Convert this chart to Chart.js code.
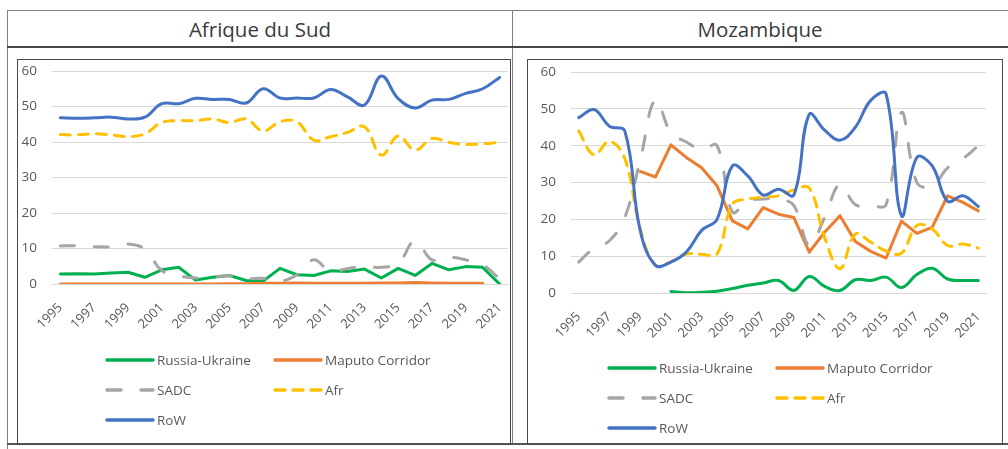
<!DOCTYPE html>
<html>
<head>
<meta charset="utf-8">
<script src="https://cdn.jsdelivr.net/npm/chart.js@4.4.1/dist/chart.umd.min.js"></script>
<style>
  html, body { margin: 0; padding: 0; background: #fff; }
  body { width: 1008px; height: 449px; position: relative; overflow: hidden; font-family: "Open Sans", sans-serif; }
  .ln { position: absolute; background: #7f7f7f; }
  .head { position: absolute; top: 11px; height: 36px; line-height: 36px; text-align: center; font-size: 20.5px; color: #3a3a3a; }
  .box { position: absolute; top: 59px; height: 384px; border: 1px solid #4a4a4a; }
  .box canvas { position: absolute; left: 0; top: 0; }
  .legend { position: absolute; font-size: 13.5px; color: #595959; }
  .item { position: absolute; white-space: nowrap; height: 20px; line-height: 20px; }
  .item svg { position: absolute; left: 0; top: 4px; }
  .item span { position: absolute; left: 52px; top: 0; }
</style>
</head>
<body>
<div class="ln" style="left:7px; top:10px; width:1001px; height:1px;"></div>
<div class="ln" style="left:7px; top:10px; width:1px; height:439px;"></div>
<div class="ln" style="left:512px; top:10px; width:1px; height:434px;"></div>
<div class="ln" style="left:7px; top:46px; width:1001px; height:2px; background:#444;"></div>
<div class="ln" style="left:7px; top:443px; width:1001px; height:2px; background:#555;"></div>
<div class="head" style="left:8px; width:504px;">Afrique du Sud</div>
<div class="head" style="left:513px; width:494px;">Mozambique</div>

<div class="box" style="left:17px; width:492px;"><canvas id="chartSA" width="492" height="384"></canvas></div>
<div class="box" style="left:527px; width:474px;"><canvas id="chartMZ" width="474" height="384"></canvas></div>

<div class="legend" id="legendSA" style="left:105px; top:350px;"></div>
<div class="legend" id="legendMZ" style="left:607px; top:358px;"></div>

<script>
const years = ['1995','1996','1997','1998','1999','2000','2001','2002','2003','2004','2005','2006','2007',
  '2008','2009','2010','2011','2012','2013','2014','2015','2016','2017','2018','2019','2020','2021'];
const yTicks = [0, 10, 20, 30, 40, 50, 60];

const seriesNames = ['Russia-Ukraine', 'Maputo Corridor', 'SADC', 'Afr', 'RoW'];
const seriesColors = ['#00b050', '#ed7d31', '#a5a5a5', '#ffc000', '#4472c4'];

// Afrique du Sud
const saRussia = [2.8, 2.9, 2.8, 3.1, 3.3, 1.9, 4.0, 4.7, 1.1, 1.9, 2.4, 1.0, 0.8, 4.4, 2.6, 2.4, 3.7, 3.5, 4.2, 1.7, 4.4, 2.4, 5.8, 4.0, 4.9, 4.7, 0];
const saMaputo = [0, 0, 0, 0, 0, 0, 0, 0, 0, 0, 0.1, 0.1, 0.2, 0.2, 0.3, 0.2, 0.2, 0.2, 0.2, 0.3, 0.3, 0.4, 0.3, 0.2, 0.2, 0.2, null];
const saSADC = [10.7, 10.8, 10.5, 10.5, 11.3, 9.8, 3.8, 2.3, 1.7, 2.0, 2.3, 1.5, 1.6, 0.8, 2.6, 6.8, 3.5, 4.4, 4.9, 4.7, 5.8, 12.2, 6.8, 7.5, 6.8, 5.4, 1.5];
const saAfr = [42.1, 42.0, 42.3, 42.0, 41.5, 42.3, 45.5, 46.0, 46.0, 46.5, 45.5, 46.5, 43.1, 45.7, 45.7, 40.5, 41.5, 42.7, 44.3, 36.3, 41.7, 37.7, 41.0, 39.9, 39.3, 39.5, 39.9];
const saRoW = [46.8, 46.7, 46.8, 47.0, 46.5, 47.0, 50.8, 50.8, 52.3, 52.0, 52.0, 51.0, 55.0, 52.4, 52.4, 52.4, 54.8, 52.7, 50.4, 58.6, 52.2, 49.6, 51.8, 52.0, 53.7, 55.0, 58.2];

// Mozambique
const mzRussia = [null, null, null, null, null, null, 0.4, 0.1, 0.2, 0.5, 1.2, 2.1, 2.7, 3.4, 0.7, 4.5, 1.8, 0.7, 3.6, 3.4, 4.3, 1.5, 5.0, 6.7, 3.8, 3.4, 3.4];
const mzMaputo = [null, null, null, null, 33.0, 31.5, 40.2, 36.8, 34.0, 29.1, 19.6, 17.4, 23.2, 21.4, 20.5, 11.1, 16.5, 21.0, 14.0, 11.3, 9.5, 19.5, 16.2, 17.8, 26.4, 24.6, 22.3];
const mzSADC = [8.4, 12.2, 14.2, 20.5, 36.0, 52.5, 43.5, 41.0, 39.0, 40.0, 22.0, 25.0, 25.5, 25.5, 23.7, 13.0, 20.5, 29.5, 24.0, 23.7, 24.0, 49.0, 30.0, 29.0, 34.0, 36.5, 40.0];
const mzAfr = [44.0, 37.5, 41.2, 36.5, 17.5, 7.5, 8.5, 10.6, 10.5, 10.6, 24.1, 25.5, 26.0, 26.4, 28.0, 28.5, 15.1, 6.6, 16.0, 13.8, 11.4, 10.8, 18.3, 17.4, 12.9, 13.3, 12.2];
const mzRoW = [47.6, 49.8, 45.3, 44.0, 17.0, 7.5, 8.4, 11.1, 17.0, 20.0, 34.5, 31.8, 26.6, 28.2, 26.6, 48.5, 44.2, 41.5, 45.0, 52.3, 54.0, 21.0, 36.8, 34.5, 24.9, 26.4, 23.5];

const dashes = [[], [], [14, 20], [10, 8], []];

function makeSets(values, smooth) {
  return values.map((v, i) => ({
    label: seriesNames[i],
    data: v,
    borderColor: seriesColors[i],
    backgroundColor: seriesColors[i],
    borderWidth: 3,
    borderDash: dashes[i],
    borderCapStyle: 'round',
    borderJoinStyle: 'round',
    pointRadius: 0,
    tension: smooth[i] ? 0.4 : 0,
    spanGaps: false,
    order: 5 - i   // RoW drawn on top, like Excel
  }));
}

function makeChart(id, datasets, box) {
  const ctx = document.getElementById(id).getContext('2d');
  return new Chart(ctx, {
    type: 'line',
    data: { labels: years, datasets: datasets },
    options: {
      responsive: false,
      animation: false,
      layout: { padding: { left: 0, right: box.padRight, top: box.padTop, bottom: 0 } },
      scales: {
        x: {
          offset: true,
          grid: { display: false, drawTicks: false },
          border: { color: '#d9d9d9', width: 1 },
          ticks: {
            autoSkip: false, maxRotation: 45, minRotation: 45, padding: box.xPad,
            color: '#595959', font: { family: 'Open Sans', size: 13 },
            callback: function(val, idx) { return idx % 2 === 0 ? this.getLabelForValue(val) : ''; }
          },
          // fixed sizes so the plot area sits where it does in the original
          afterFit: s => { s.height = box.xHeight; s.paddingLeft = 0; s.paddingRight = 0; }
        },
        y: {
          min: 0, max: 60,
          afterBuildTicks: s => { s.ticks = yTicks.map(v => ({ value: v })); },
          grid: { color: '#d9d9d9', lineWidth: 1, drawTicks: false },
          border: { display: false },
          ticks: { padding: box.yPad, color: '#595959', font: { family: 'Open Sans', size: 13.5 } },
          afterFit: s => { s.width = box.yWidth; s.paddingTop = 0; s.paddingBottom = 0; }
        }
      },
      plugins: { legend: { display: false }, tooltip: { enabled: false } }
    }
  });
}

makeChart('chartSA', makeSets([saRussia, saMaputo, saSADC, saAfr, saRoW], [false, false, true, true, true]),
  { padRight: 2, padTop: 11, xHeight: 160, yWidth: 34, xPad: 16, yPad: 15 });
makeChart('chartMZ', makeSets([mzRussia, mzMaputo, mzSADC, mzAfr, mzRoW], [true, false, true, true, true]),
  { padRight: 16, padTop: 12, xHeight: 151, yWidth: 43, xPad: 16, yPad: 15 });

// legend, 2 columns as in the original
function buildLegend(el) {
  const pos = [[0, 0], [168, 0], [0, 30], [168, 30], [0, 60]];
  seriesNames.forEach((name, i) => {
    const d = dashes[i].length ? dashes[i].join(' ') : 'none';
    const item = document.createElement('div');
    item.className = 'item';
    item.style.left = pos[i][0] + 'px';
    item.style.top = pos[i][1] + 'px';
    item.innerHTML = `<svg width="50" height="12"><line x1="2" y1="6" x2="48" y2="6" stroke="${seriesColors[i]}" stroke-width="3.5" stroke-linecap="round" stroke-dasharray="${d}"/></svg><span>${name}</span>`;
    el.appendChild(item);
  });
}
buildLegend(document.getElementById('legendSA'));
buildLegend(document.getElementById('legendMZ'));
</script>
</body>
</html>
